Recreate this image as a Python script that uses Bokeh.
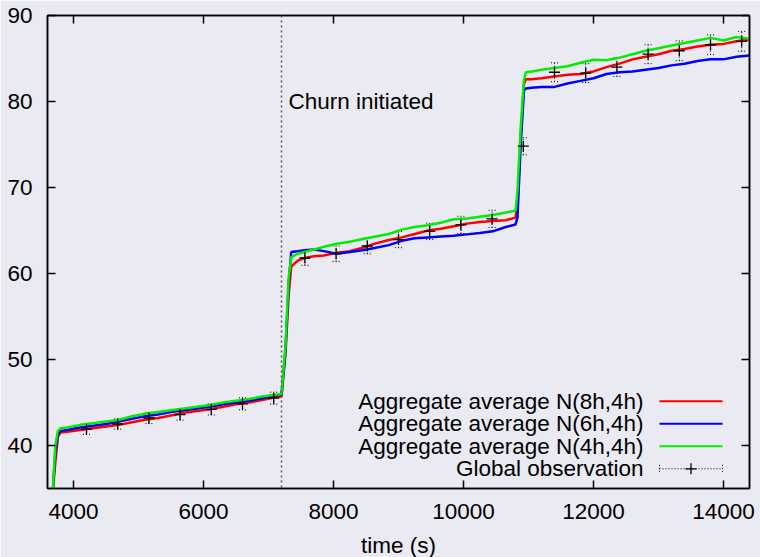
from bokeh.plotting import figure
from bokeh.models import LinearAxis, FixedTicker, Label, Range1d, Span, Whisker, TeeHead, ColumnDataSource
from bokeh.embed import file_html
from bokeh.resources import INLINE

# ---------------- data ----------------
TIME = [3680, 3720, 3760, 3800, 3900, 4100, 4300, 4500, 4700, 4900, 5100, 5300, 5500, 5700,
        5900, 6100, 6300, 6500, 6700, 6900, 7100, 7200, 7260, 7310, 7350, 7450, 7550, 7700,
        7850, 8050, 8250, 8450, 8650, 8850, 9050, 9250, 9450, 9650, 9850, 10050, 10250, 10450,
        10650, 10800, 10830, 10880, 10930, 10960, 11050, 11200, 11400, 11600, 11800, 12000,
        12200, 12400, 12600, 12800, 13000, 13200, 13400, 13600, 13800, 14000, 14200, 14400]

N_8H = [34.5, 38.0, 41.0, 41.5, 41.6, 41.8, 42.0, 42.2, 42.4, 42.7, 43.0, 43.2, 43.5, 43.8,
        44.0, 44.2, 44.5, 44.8, 45.0, 45.3, 45.6, 45.7, 50.5, 57.5, 60.8, 61.5, 61.8, 62.0,
        62.1, 62.4, 62.6, 63.0, 63.5, 63.9, 64.2, 64.6, 65.0, 65.2, 65.5, 65.8, 66.0, 66.1,
        66.2, 66.5, 68.0, 76.0, 82.0, 82.6, 82.6, 82.7, 82.9, 83.1, 83.2, 83.5,
        84.0, 84.4, 84.9, 85.2, 85.5, 85.9, 86.1, 86.4, 86.6, 86.7, 87.0, 87.2]

N_6H = [34.5, 39.2, 41.3, 41.7, 41.8, 42.1, 42.3, 42.5, 42.8, 43.1, 43.4, 43.6, 43.9, 44.1,
        44.3, 44.5, 44.8, 45.0, 45.2, 45.5, 45.8, 45.9, 51.0, 58.8, 62.5, 62.6, 62.7, 62.8,
        62.6, 62.3, 62.5, 62.7, 63.0, 63.3, 63.8, 64.1, 64.2, 64.3, 64.4, 64.55, 64.7, 64.9,
        65.4, 65.7, 66.5, 75.0, 81.3, 81.5, 81.6, 81.7, 81.7, 82.1, 82.4, 82.7,
        83.2, 83.4, 83.5, 83.7, 83.9, 84.2, 84.4, 84.7, 84.9, 84.9, 85.2, 85.35]

N_4H = [34.5, 40.0, 41.7, 42.0, 42.1, 42.4, 42.6, 42.8, 43.0, 43.4, 43.7, 43.9, 44.1, 44.3,
        44.5, 44.7, 45.0, 45.2, 45.4, 45.7, 45.9, 46.0, 51.5, 59.5, 61.9, 62.3, 62.5, 62.8,
        63.1, 63.45, 63.7, 64.0, 64.3, 64.6, 65.1, 65.4, 65.6, 65.9, 66.3, 66.4, 66.6, 66.8,
        67.1, 67.3, 69.5, 77.0, 82.5, 83.4, 83.5, 83.7, 83.9, 84.1, 84.5, 84.85,
        84.8, 85.1, 85.5, 85.9, 86.2, 86.5, 86.8, 87.1, 87.4, 87.1, 87.5, 87.3]

OBS_T = [4200, 4680, 5160, 5640, 6120, 6600, 7080, 7560, 8040, 8520, 9000, 9480, 9960, 10440,
         10920, 11400, 11880, 12360, 12840, 13320, 13800, 14280]
OBS_N = [41.9, 42.5, 43.2, 43.6, 44.2, 44.85, 45.5, 61.8, 62.3, 63.2, 63.95, 64.9, 65.65, 66.35,
         74.8, 83.4, 83.3, 84.0, 85.5, 85.9, 86.6, 87.0]
OBS_ERR = [0.6, 0.6, 0.65, 0.65, 0.65, 0.7, 0.7, 0.85, 0.9, 0.9, 0.95, 0.95, 1.0, 1.0,
           1.0, 1.1, 1.1, 1.1, 1.1, 1.15, 1.15, 1.15]

CHURN_T = 7200
X_TICKS = [4000, 6000, 8000, 10000, 12000, 14000]
Y_TICKS = [40, 50, 60, 70, 80, 90]
X_RANGE = (3600, 14400)
Y_RANGE = (35, 90)

SERIES = [("Aggregate average N(8h,4h)", N_8H, "#ff0000"),
          ("Aggregate average N(6h,4h)", N_6H, "#0000ff"),
          ("Aggregate average N(4h,4h)", N_4H, "#00ee00")]
OBS_LABEL = "Global observation"

# ---------------- figure ----------------
BG = "#eaeaf2"
FONT = "Liberation Sans"
FS = "22.5px"
FW, FH = 702, 473

p = figure(frame_width=FW, frame_height=FH,
           x_range=Range1d(*X_RANGE), y_range=Range1d(*Y_RANGE),
           output_backend="svg", toolbar_location=None,
           background_fill_color=BG, border_fill_color=BG,
           min_border_left=47, min_border_right=11, min_border_top=15, min_border_bottom=69,
           x_axis_label="time (s)")
p.grid.visible = False
p.outline_line_color = "black"
p.outline_line_width = 1.5


def style_axis(ax, ticks, labels):
    ax.ticker = FixedTicker(ticks=ticks)
    ax.major_tick_in = 8
    ax.major_tick_out = 0
    ax.minor_tick_line_color = None
    ax.axis_line_color = "black"
    ax.axis_line_width = 1.5
    ax.major_tick_line_color = "black"
    ax.major_tick_line_width = 1.5
    ax.major_label_text_font = FONT
    ax.major_label_text_color = "black"
    ax.major_label_text_font_size = FS
    if not labels:
        ax.major_label_overrides = {t: "" for t in ticks}
        ax.major_label_standoff = 0


style_axis(p.xaxis[0], X_TICKS, True)
style_axis(p.yaxis[0], Y_TICKS, True)
p.xaxis[0].major_label_standoff = 15
p.yaxis[0].major_label_standoff = 15
p.xaxis[0].axis_label_text_font = FONT
p.xaxis[0].axis_label_text_font_size = FS
p.xaxis[0].axis_label_text_font_style = "normal"
p.xaxis[0].axis_label_text_color = "black"
p.xaxis[0].axis_label_standoff = 11

top = LinearAxis()
style_axis(top, X_TICKS, False)
p.add_layout(top, "above")
right = LinearAxis()
style_axis(right, Y_TICKS, False)
p.add_layout(right, "right")

# churn line
p.add_layout(Span(location=CHURN_T, dimension="height", line_color="#555555",
                  line_dash="2 3", line_width=1.5))
p.add_layout(Label(x=CHURN_T, y=80, x_offset=7, text="Churn initiated",
                   text_font=FONT, text_font_size=FS, text_baseline="middle",
                   text_color="black"))

# series lines
for name, ys, col in SERIES:
    p.line(TIME, ys, line_color=col, line_width=2.5)

# global observation with error bars
src = ColumnDataSource(dict(t=OBS_T, n=OBS_N,
                            lo=[n - e for n, e in zip(OBS_N, OBS_ERR)],
                            hi=[n + e for n, e in zip(OBS_N, OBS_ERR)]))
p.add_layout(Whisker(base="t", lower="lo", upper="hi", source=src,
                     line_color="black", line_dash="1 2", line_width=1,
                     upper_head=TeeHead(size=7, line_color="black", line_dash="1 2", line_width=1),
                     lower_head=TeeHead(size=7, line_color="black", line_dash="1 2", line_width=1)))
p.scatter("t", "n", source=src, marker="cross", size=11, line_color="black", line_width=1.3)

# ---------------- legend (gnuplot style: text right-aligned, sample on the right) ----------------
xs_per_px = (X_RANGE[1] - X_RANGE[0]) / FW
ys_per_px = (Y_RANGE[1] - Y_RANGE[0]) / FH


def fx(px):
    return X_RANGE[0] + px * xs_per_px


def fy(py):
    return Y_RANGE[1] - py * ys_per_px


TEXT_R, S0, S1 = 596, 612, 675
ROWS = [385.7, 408.3, 430.7, 453.3]
labels = [s[0] for s in SERIES] + [OBS_LABEL]
for i, lab in enumerate(labels):
    p.add_layout(Label(x=fx(TEXT_R), y=fy(ROWS[i]), text=lab, text_font=FONT,
                       text_font_size=FS, text_align="right", text_baseline="middle",
                       text_color="black"))
for i, (name, ys, col) in enumerate(SERIES):
    p.segment(x0=[fx(S0)], y0=[fy(ROWS[i])], x1=[fx(S1)], y1=[fy(ROWS[i])],
              line_color=col, line_width=2)
ly = fy(ROWS[3])
p.segment(x0=[fx(S0)], y0=[ly], x1=[fx(S1)], y1=[ly], line_color="black",
          line_dash="1 2", line_width=1)
p.segment(x0=[fx(S0), fx(S1)], y0=[fy(ROWS[3] - 4)] * 2, x1=[fx(S0), fx(S1)],
          y1=[fy(ROWS[3] + 4)] * 2, line_color="black", line_dash="1 2", line_width=1)
p.scatter([fx((S0 + S1) / 2)], [ly], marker="cross", size=11, line_color="black", line_width=1.3)

html = file_html(p, INLINE)
html = html.replace("<body>", '<body style="background-color:%s;">' % BG, 1)
open("out.html", "w").write(html)
